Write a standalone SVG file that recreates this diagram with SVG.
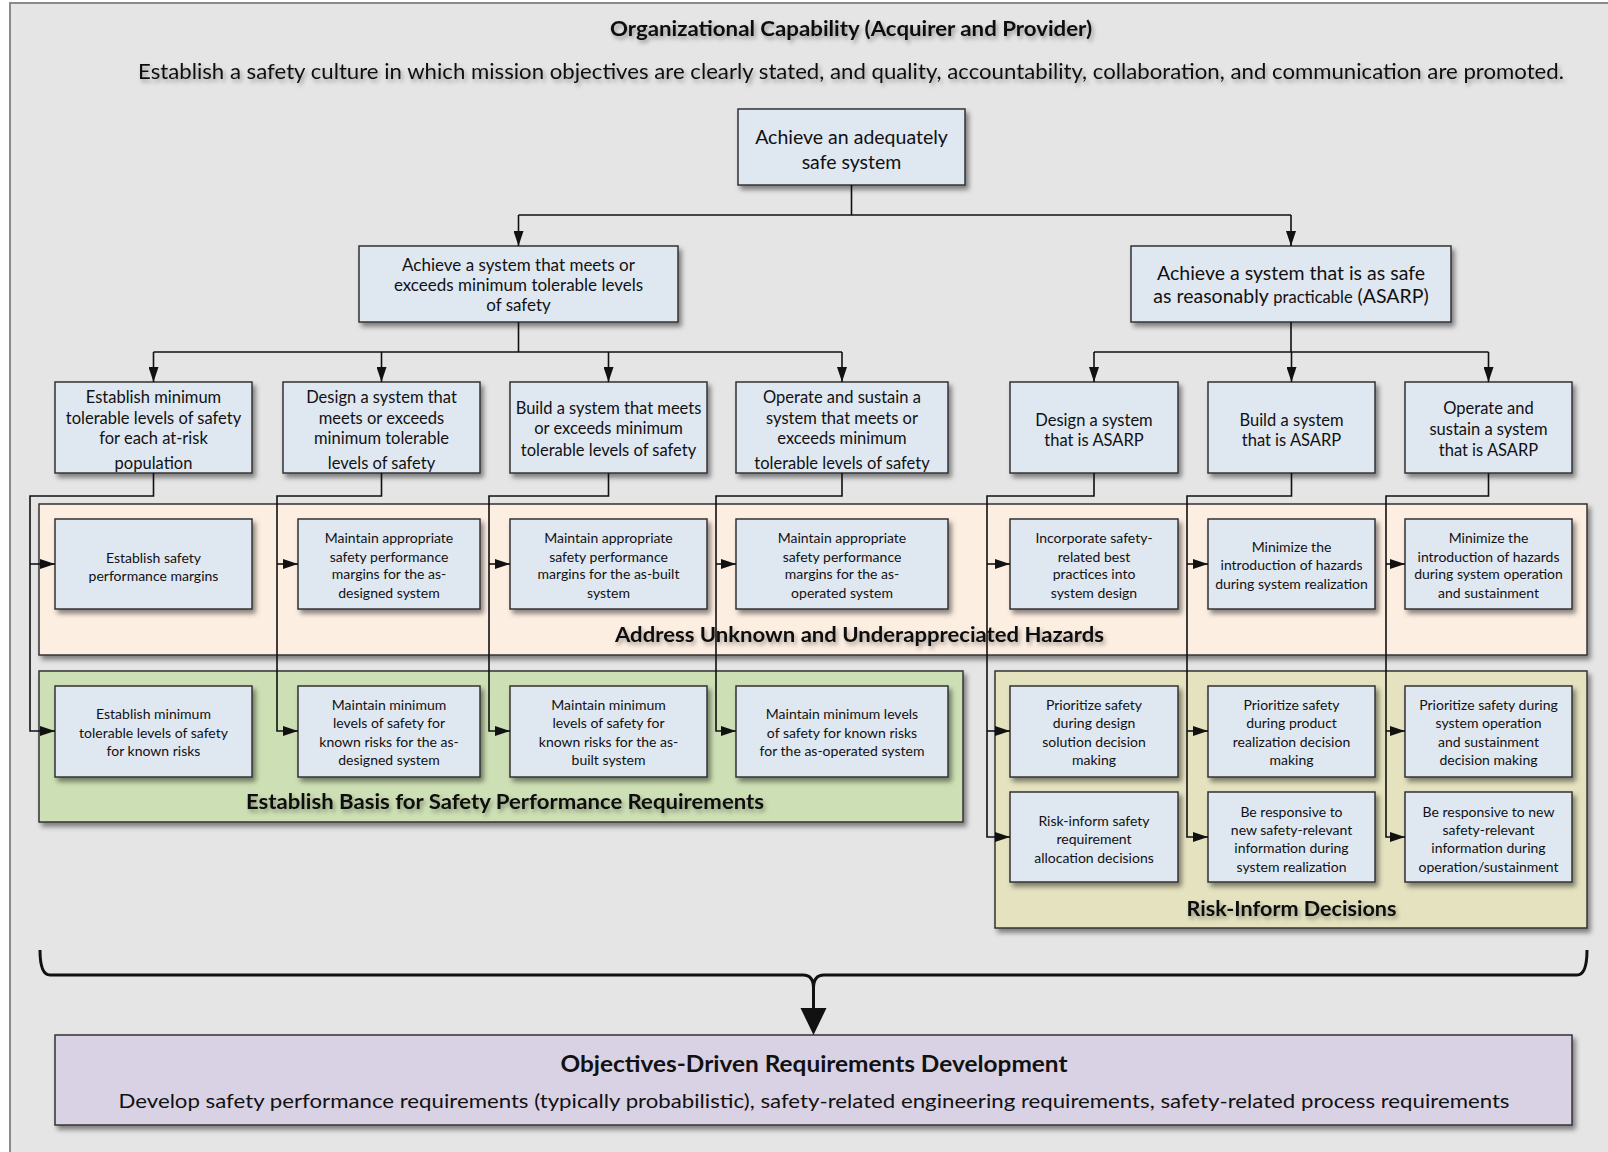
<svg xmlns="http://www.w3.org/2000/svg" width="1608" height="1152" viewBox="0 0 1608 1152">
  <style>
    .box { fill: #dfe7f1; stroke: #333; stroke-width: 1.5; filter: url(#shadow); }
    .band { stroke: #333; stroke-width: 1.5; filter: url(#shadow); }
    text { font-family: Lato, "Open Sans", "Liberation Sans", sans-serif; fill: #111; text-anchor: middle; }
    .t1 { font-size: 19.5px; }
    .t2 { font-size: 16.5px; }
    .t3 { font-size: 14px; }
    .lbl { font-size: 21px; font-weight: bold; filter: url(#tshadow); }
    .conn { fill: none; stroke: #111; stroke-width: 1.6; }
    .arr { marker-end: url(#ah); }
  </style>
  <defs>
    <filter id="shadow" x="-10%" y="-10%" width="130%" height="150%">
      <feDropShadow dx="3" dy="4" stdDeviation="2.5" flood-color="#000" flood-opacity="0.45"/>
    </filter>
    <filter id="tshadow" x="-5%" y="-30%" width="110%" height="180%">
      <feDropShadow dx="2" dy="3" stdDeviation="2" flood-color="#000" flood-opacity="0.35"/>
    </filter>
    <marker id="ah" markerUnits="userSpaceOnUse" markerWidth="15" markerHeight="10" refX="15" refY="5" orient="auto">
      <path d="M0,0 L15,5 L0,10 z" fill="#111"/>
    </marker>
  </defs>

  <!-- page and frame -->
  <rect x="0" y="0" width="1608" height="1152" fill="#ffffff"/>
  <rect x="10" y="3" width="1620" height="1170" fill="#e5e5e5" stroke="#8a8a8a" stroke-width="2"/>

  <!-- heading -->
  <g id="heading">
    <text x="851" y="36" font-size="20.5" font-weight="bold" textLength="482" lengthAdjust="spacingAndGlyphs" filter="url(#tshadow)">Organizational Capability (Acquirer and Provider)</text>
    <text x="851" y="79" font-size="21" textLength="1426" lengthAdjust="spacingAndGlyphs" filter="url(#tshadow)">Establish a safety culture in which mission objectives are clearly stated, and quality, accountability, collaboration, and communication are promoted.</text>
  </g>

  <!-- grouping bands -->
  <g id="band-hazards">
    <rect class="band" x="39" y="504" width="1548" height="151" fill="#fdeee2"/>
    <text class="lbl" x="859.5" y="642" textLength="489" lengthAdjust="spacingAndGlyphs">Address Unknown and Underappreciated Hazards</text>
  </g>
  <g id="band-basis">
    <rect class="band" x="39" y="671" width="924" height="151" fill="#cddfb4"/>
    <text class="lbl" x="505" y="809" textLength="518" lengthAdjust="spacingAndGlyphs">Establish Basis for Safety Performance Requirements</text>
  </g>
  <g id="band-risk">
    <rect class="band" x="995" y="671" width="592" height="257" fill="#e4e2bf"/>
    <text class="lbl" x="1291.5" y="915.5" textLength="210" lengthAdjust="spacingAndGlyphs">Risk-Inform Decisions</text>
  </g>

  <!-- top levels -->
  <g id="n-root">
    <rect class="box" x="738" y="109" width="227" height="76"/>
    <text class="t1" x="851.5"><tspan x="851.5" y="143.5">Achieve an adequately</tspan><tspan x="851.5" y="168.5">safe system</tspan></text>
  </g>
  <g id="n-min">
    <rect class="box" x="359" y="246" width="319" height="76"/>
    <text x="518.5" font-size="17"><tspan x="518.5" y="270.5">Achieve a system that meets or</tspan><tspan x="518.5" y="290.5">exceeds minimum tolerable levels</tspan><tspan x="518.5" y="310.5">of safety</tspan></text>
  </g>
  <g id="n-asarp">
    <rect class="box" x="1131" y="246" width="320" height="76"/>
    <text x="1291" font-size="19.5"><tspan x="1291" y="280">Achieve a system that is as safe</tspan><tspan x="1291" y="303">as reasonably <tspan font-size="16.5">practicable</tspan> (ASARP)</tspan></text>
  </g>

  <!-- second level -->
  <g id="n-establish">
    <rect class="box" x="55" y="382" width="197" height="91"/>
    <text class="t2" x="153.5"><tspan x="153.5" y="402.5">Establish minimum</tspan><tspan x="153.5" y="424">tolerable levels of safety</tspan><tspan x="153.5" y="444">for each at-risk</tspan><tspan x="153.5" y="469">population</tspan></text>
  </g>
  <g id="n-design">
    <rect class="box" x="283" y="382" width="197" height="91"/>
    <text class="t2" x="381.5"><tspan x="381.5" y="402.5">Design a system that</tspan><tspan x="381.5" y="424">meets or exceeds</tspan><tspan x="381.5" y="444">minimum tolerable</tspan><tspan x="381.5" y="469">levels of safety</tspan></text>
  </g>
  <g id="n-build">
    <rect class="box" x="510" y="382" width="197" height="91"/>
    <text class="t2" x="608.5"><tspan x="608.5" y="413.5">Build a system that meets</tspan><tspan x="608.5" y="434">or exceeds minimum</tspan><tspan x="608.5" y="456">tolerable levels of safety</tspan></text>
  </g>
  <g id="n-operate">
    <rect class="box" x="736" y="382" width="212" height="91"/>
    <text class="t2" x="842"><tspan x="842" y="402.5">Operate and sustain a</tspan><tspan x="842" y="424">system that meets or</tspan><tspan x="842" y="444">exceeds minimum</tspan><tspan x="842" y="469">tolerable levels of safety</tspan></text>
  </g>
  <g id="n-design-asarp">
    <rect class="box" x="1010" y="382" width="168" height="91"/>
    <text class="t2" x="1094"><tspan x="1094" y="426">Design a system</tspan><tspan x="1094" y="446">that is ASARP</tspan></text>
  </g>
  <g id="n-build-asarp">
    <rect class="box" x="1208" y="382" width="167" height="91"/>
    <text class="t2" x="1291.5"><tspan x="1291.5" y="426">Build a system</tspan><tspan x="1291.5" y="446">that is ASARP</tspan></text>
  </g>
  <g id="n-operate-asarp">
    <rect class="box" x="1405" y="382" width="167" height="91"/>
    <text class="t2" x="1488.5"><tspan x="1488.5" y="414">Operate and</tspan><tspan x="1488.5" y="435">sustain a system</tspan><tspan x="1488.5" y="456">that is ASARP</tspan></text>
  </g>

  <!-- hazards band nodes -->
  <g id="n-margins">
    <rect class="box" x="55" y="519" width="197" height="90"/>
    <text class="t3" x="153.5"><tspan x="153.5" y="562.7">Establish safety</tspan><tspan x="153.5" y="580.7">performance margins</tspan></text>
  </g>
  <g id="n-margins-designed">
    <rect class="box" x="298" y="519" width="182" height="90"/>
    <text class="t3" x="389"><tspan x="389" y="543.3">Maintain appropriate</tspan><tspan x="389" y="561.7">safety performance</tspan><tspan x="389" y="579.3">margins for the as-</tspan><tspan x="389" y="598.3">designed system</tspan></text>
  </g>
  <g id="n-margins-built">
    <rect class="box" x="510" y="519" width="197" height="90"/>
    <text class="t3" x="608.5"><tspan x="608.5" y="543.3">Maintain appropriate</tspan><tspan x="608.5" y="561.7">safety performance</tspan><tspan x="608.5" y="579.3">margins for the as-built</tspan><tspan x="608.5" y="598.3">system</tspan></text>
  </g>
  <g id="n-margins-operated">
    <rect class="box" x="736" y="519" width="212" height="90"/>
    <text class="t3" x="842"><tspan x="842" y="543.3">Maintain appropriate</tspan><tspan x="842" y="561.7">safety performance</tspan><tspan x="842" y="579.3">margins for the as-</tspan><tspan x="842" y="598.3">operated system</tspan></text>
  </g>
  <g id="n-best-practices">
    <rect class="box" x="1010" y="519" width="168" height="90"/>
    <text class="t3" x="1094"><tspan x="1094" y="543.3">Incorporate safety-</tspan><tspan x="1094" y="561.7">related best</tspan><tspan x="1094" y="579.3">practices into</tspan><tspan x="1094" y="598.3">system design</tspan></text>
  </g>
  <g id="n-min-hazards-real">
    <rect class="box" x="1208" y="519" width="167" height="90"/>
    <text class="t3" x="1291.5"><tspan x="1291.5" y="552">Minimize the</tspan><tspan x="1291.5" y="570">introduction of hazards</tspan><tspan x="1291.5" y="589">during system realization</tspan></text>
  </g>
  <g id="n-min-hazards-ops">
    <rect class="box" x="1405" y="519" width="167" height="90"/>
    <text class="t3" x="1488.5"><tspan x="1488.5" y="543.3">Minimize the</tspan><tspan x="1488.5" y="561.7">introduction of hazards</tspan><tspan x="1488.5" y="579.3">during system operation</tspan><tspan x="1488.5" y="598.3">and sustainment</tspan></text>
  </g>

  <!-- basis band nodes -->
  <g id="n-known-risks">
    <rect class="box" x="55" y="686" width="197" height="91"/>
    <text class="t3" x="153.5"><tspan x="153.5" y="719">Establish minimum</tspan><tspan x="153.5" y="737.7">tolerable levels of safety</tspan><tspan x="153.5" y="756">for known risks</tspan></text>
  </g>
  <g id="n-known-designed">
    <rect class="box" x="298" y="686" width="182" height="91"/>
    <text class="t3" x="389"><tspan x="389" y="710">Maintain minimum</tspan><tspan x="389" y="728.3">levels of safety for</tspan><tspan x="389" y="746.7">known risks for the as-</tspan><tspan x="389" y="765">designed system</tspan></text>
  </g>
  <g id="n-known-built">
    <rect class="box" x="510" y="686" width="197" height="91"/>
    <text class="t3" x="608.5"><tspan x="608.5" y="710">Maintain minimum</tspan><tspan x="608.5" y="728.3">levels of safety for</tspan><tspan x="608.5" y="746.7">known risks for the as-</tspan><tspan x="608.5" y="765">built system</tspan></text>
  </g>
  <g id="n-known-operated">
    <rect class="box" x="736" y="686" width="212" height="91"/>
    <text class="t3" x="842"><tspan x="842" y="719">Maintain minimum levels</tspan><tspan x="842" y="737.7">of safety for known risks</tspan><tspan x="842" y="756">for the as-operated system</tspan></text>
  </g>

  <!-- risk band nodes -->
  <g id="n-prio-design">
    <rect class="box" x="1010" y="686" width="168" height="91"/>
    <text class="t3" x="1094"><tspan x="1094" y="710">Prioritize safety</tspan><tspan x="1094" y="728.3">during design</tspan><tspan x="1094" y="747">solution decision</tspan><tspan x="1094" y="765">making</tspan></text>
  </g>
  <g id="n-prio-real">
    <rect class="box" x="1208" y="686" width="167" height="91"/>
    <text class="t3" x="1291.5"><tspan x="1291.5" y="710">Prioritize safety</tspan><tspan x="1291.5" y="728.3">during product</tspan><tspan x="1291.5" y="747">realization decision</tspan><tspan x="1291.5" y="765">making</tspan></text>
  </g>
  <g id="n-prio-ops">
    <rect class="box" x="1405" y="686" width="167" height="91"/>
    <text class="t3" x="1488.5"><tspan x="1488.5" y="710">Prioritize safety during</tspan><tspan x="1488.5" y="728.3">system operation</tspan><tspan x="1488.5" y="747">and sustainment</tspan><tspan x="1488.5" y="765">decision making</tspan></text>
  </g>
  <g id="n-alloc">
    <rect class="box" x="1010" y="792" width="168" height="90"/>
    <text class="t3" x="1094"><tspan x="1094" y="825.7">Risk-inform safety</tspan><tspan x="1094" y="844">requirement</tspan><tspan x="1094" y="862.7">allocation decisions</tspan></text>
  </g>
  <g id="n-resp-real">
    <rect class="box" x="1208" y="792" width="167" height="90"/>
    <text class="t3" x="1291.5"><tspan x="1291.5" y="816.7">Be responsive to</tspan><tspan x="1291.5" y="835">new safety-relevant</tspan><tspan x="1291.5" y="853">information during</tspan><tspan x="1291.5" y="871.7">system realization</tspan></text>
  </g>
  <g id="n-resp-ops">
    <rect class="box" x="1405" y="792" width="167" height="90"/>
    <text class="t3" x="1488.5"><tspan x="1488.5" y="816.7">Be responsive to new</tspan><tspan x="1488.5" y="835">safety-relevant</tspan><tspan x="1488.5" y="853">information during</tspan><tspan x="1488.5" y="871.7">operation/sustainment</tspan></text>
  </g>

  <!-- outcome -->
  <g id="n-requirements">
    <rect class="band" x="55" y="1035" width="1517" height="90" fill="#d9d1e4"/>
    <text x="814" y="1072" font-size="22" font-weight="bold" textLength="507" lengthAdjust="spacingAndGlyphs">Objectives-Driven Requirements Development</text>
    <text x="814" y="1108" font-size="20" textLength="1391" lengthAdjust="spacingAndGlyphs">Develop safety performance requirements (typically probabilistic), safety-related engineering requirements, safety-related process requirements</text>
  </g>

  <!-- connectors -->
  <g id="connectors">
    <path class="conn" d="M851.5 185 V215 M518.5 215 H1291"/>
    <path class="conn arr" d="M518.5 215 V246"/>
    <path class="conn arr" d="M1291 215 V246"/>

    <path class="conn" d="M518.5 322 V352 M153.5 352 H842"/>
    <path class="conn arr" d="M153.5 352 V382"/>
    <path class="conn arr" d="M381.5 352 V382"/>
    <path class="conn arr" d="M608.5 352 V382"/>
    <path class="conn arr" d="M842 352 V382"/>

    <path class="conn" d="M1291 322 V352 M1094 352 H1488.5"/>
    <path class="conn arr" d="M1094 352 V382"/>
    <path class="conn arr" d="M1291.5 352 V382"/>
    <path class="conn arr" d="M1488.5 352 V382"/>

    <path class="conn arr" d="M153.5 473 V496 H30 V731 H55"/>
    <path class="conn arr" d="M30 564 H55"/>
    <path class="conn arr" d="M381.5 473 V496 H277 V731 H298"/>
    <path class="conn arr" d="M277 564 H298"/>
    <path class="conn arr" d="M608.5 473 V496 H489 V731 H510"/>
    <path class="conn arr" d="M489 564 H510"/>
    <path class="conn arr" d="M842 473 V496 H716 V731 H736"/>
    <path class="conn arr" d="M716 564 H736"/>

    <path class="conn arr" d="M1094 473 V496 H987 V837 H1010"/>
    <path class="conn arr" d="M987 564 H1010"/>
    <path class="conn arr" d="M987 731 H1010"/>
    <path class="conn arr" d="M1291.5 473 V496 H1187 V837 H1208"/>
    <path class="conn arr" d="M1187 564 H1208"/>
    <path class="conn arr" d="M1187 731 H1208"/>
    <path class="conn arr" d="M1488.5 473 V496 H1386 V837 H1405"/>
    <path class="conn arr" d="M1386 564 H1405"/>
    <path class="conn arr" d="M1386 731 H1405"/>

    <!-- brace gathering all objectives -->
    <path d="M40 950 Q40 975 50 975 H803 Q813.5 975 813.5 988 Q813.5 975 824 975 H1577 Q1587 975 1587 950" fill="none" stroke="#111" stroke-width="3"/>
    <path d="M813.5 986 V1010" fill="none" stroke="#111" stroke-width="3"/>
    <path d="M800.5 1008 L826.5 1008 L813.5 1035 z" fill="#111"/>
  </g>
</svg>
